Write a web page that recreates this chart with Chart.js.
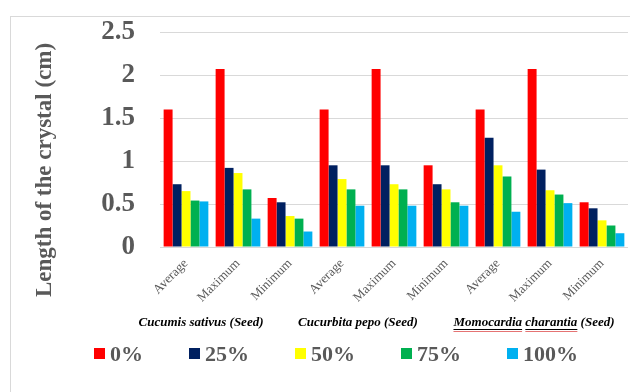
<!DOCTYPE html>
<html>
<head>
<meta charset="utf-8">
<script src="https://cdn.jsdelivr.net/npm/chart.js@4"></script>
<style>
  html, body { margin: 0; padding: 0; background: #fff; }
  #wrap { width: 630px; height: 392px; position: relative; }
</style>
</head>
<body>
<div id="wrap"><canvas id="chart"></canvas></div>
<script>
// ---- data ----
const categories = ["Average", "Maximum", "Minimum", "Average", "Maximum", "Minimum", "Average", "Maximum", "Minimum"];
const groups = ["Cucumis sativus (Seed)", "Cucurbita pepo (Seed)", "Momocardia charantia (Seed)"];
const seriesNames = ["0%", "25%", "50%", "75%", "100%"];
const s0 = [1.6, 2.07, 0.57, 1.6, 2.07, 0.95, 1.6, 2.07, 0.52];
const s25 = [0.73, 0.92, 0.52, 0.95, 0.95, 0.73, 1.27, 0.9, 0.45];
const s50 = [0.65, 0.86, 0.36, 0.79, 0.73, 0.67, 0.95, 0.66, 0.31];
const s75 = [0.54, 0.67, 0.33, 0.67, 0.67, 0.52, 0.82, 0.61, 0.25];
const s100 = [0.53, 0.33, 0.18, 0.48, 0.48, 0.48, 0.41, 0.51, 0.16];
const yTicks = [0, 0.5, 1, 1.5, 2, 2.5];

const colors = ["#FF0000", "#002060", "#FFFF00", "#00B050", "#00B0F0"];
const grey = "#595959";
const serif = "'Liberation Serif', 'Times New Roman', serif";
// group label shift from the group centre (labels sit a bit left in the original)
const groupShift = [-37, -36, -16];

const allSeries = [s0, s25, s50, s75, s100];
const datasets = allSeries.map((vals, i) => ({
  label: seriesNames[i],
  data: vals,
  backgroundColor: colors[i],
  borderWidth: 0
}));

// frame, y title, group labels and legend
const extras = {
  id: "extras",
  beforeDraw(chart) {
    const ctx = chart.ctx;
    ctx.save();
    ctx.strokeStyle = "#d9d9d9";
    ctx.lineWidth = 1;
    ctx.strokeRect(10.5, 16.5, 700, 500);
    ctx.restore();
  },
  afterDraw(chart) {
    const ctx = chart.ctx;
    const x = chart.scales.x;
    ctx.save();

    // y axis title
    ctx.translate(45, 170);
    ctx.rotate(-Math.PI / 2);
    ctx.font = "bold 23px " + serif;
    ctx.fillStyle = grey;
    ctx.textAlign = "center";
    ctx.textBaseline = "middle";
    ctx.fillText("Length of the crystal (cm)", 0, 0);
    ctx.setTransform(1, 0, 0, 1, 0, 0);

    // group labels under the rotated ticks
    ctx.font = "italic bold 13px " + serif;
    ctx.fillStyle = "#000";
    ctx.textBaseline = "middle";
    ctx.textAlign = "left";
    groups.forEach((g, i) => {
      const mid = x.getPixelForValue(i * 3 + 1);
      const w = ctx.measureText(g).width;
      const left = mid + groupShift[i] - w / 2;
      ctx.fillStyle = "#000";
      ctx.fillText(g, left, 323);
      if (i === 2) {
        // black underline + red spell-check mark under each word of the name
        let ux = left;
        ["Momocardia", "charantia"].forEach(word => {
          const ww = ctx.measureText(word).width;
          ctx.fillStyle = "#000";
          ctx.fillRect(ux, 329, ww, 1);
          ctx.fillStyle = "#e57373";
          ctx.fillRect(ux, 331, ww, 1);
          ux += ww + ctx.measureText(" ").width;
        });
      }
    });

    // legend
    ctx.font = "bold 22px " + serif;
    let lx = 94;
    chart.data.datasets.forEach(ds => {
      ctx.fillStyle = ds.backgroundColor;
      ctx.fillRect(lx, 348, 11, 11);
      ctx.fillStyle = grey;
      ctx.fillText(ds.label, lx + 16, 355);
      lx += 16 + ctx.measureText(ds.label).width + 46;
    });
    ctx.restore();
  }
};

new Chart(document.getElementById("chart"), {
  type: "bar",
  data: { labels: categories, datasets: datasets },
  options: {
    responsive: true,
    maintainAspectRatio: false,
    animation: false,
    layout: { padding: { left: 30, right: 2, top: 32, bottom: 0 } },
    datasets: { bar: { categoryPercentage: 0.86, barPercentage: 1 } },
    plugins: {
      legend: { display: false },
      tooltip: { enabled: false }
    },
    scales: {
      x: {
        grid: { display: false },
        border: { display: false },
        ticks: {
          color: grey,
          font: { family: serif, size: 13 },
          minRotation: 45,
          maxRotation: 45,
          padding: 1
        },
        afterFit(s) { s.height = 145; }
      },
      y: {
        min: 0,
        max: 2.5,
        border: { display: false },
        grid: { color: "#d9d9d9", lineWidth: 1, drawTicks: false },
        afterBuildTicks(s) { s.ticks = yTicks.map(v => ({ value: v })); },
        ticks: {
          color: grey,
          font: { family: serif, size: 27, weight: "bold" },
          padding: 25,
          callback: v => String(v)
        },
        afterFit(s) {
          s.width = 130;
          s.paddingTop = 0;
          s.paddingBottom = 0;
        }
      }
    }
  },
  plugins: [extras]
});
</script>
</body>
</html>
